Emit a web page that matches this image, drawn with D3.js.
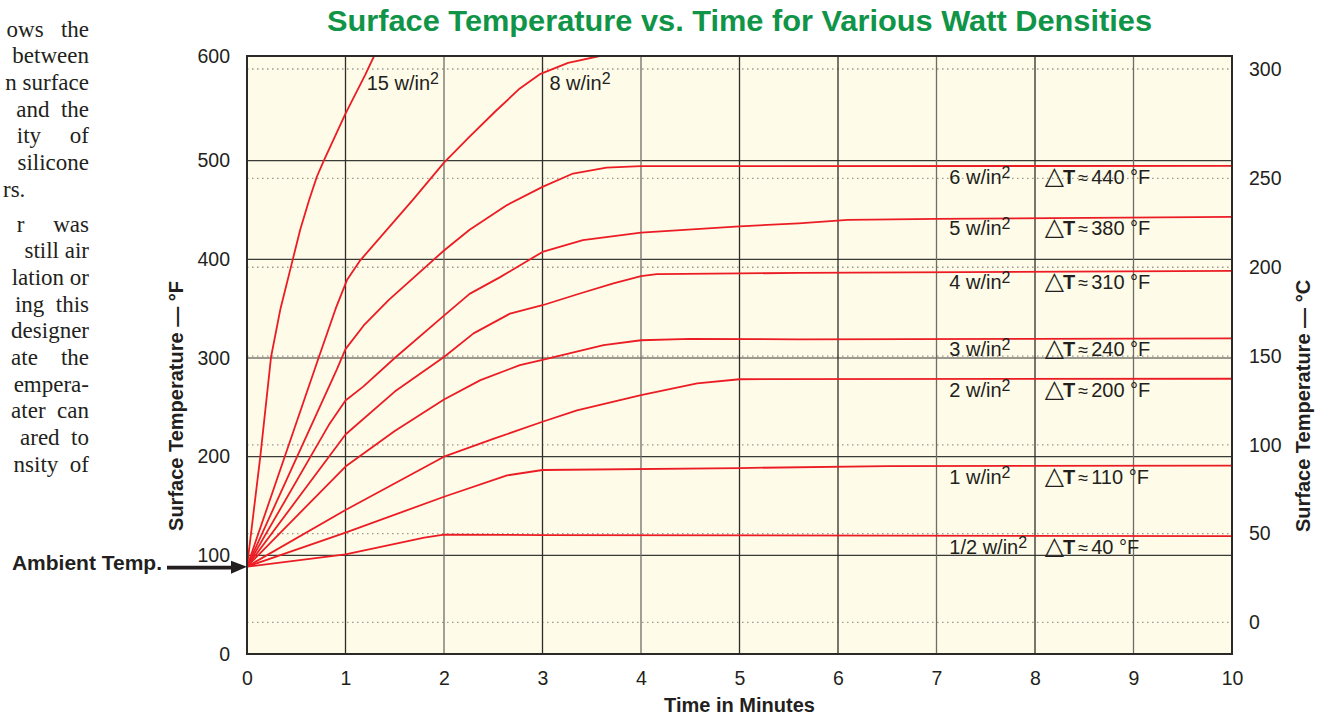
<!DOCTYPE html>
<html><head><meta charset="utf-8">
<script src="https://cdn.jsdelivr.net/npm/d3@7"></script>
<style>
html,body{margin:0;padding:0;background:#fff;}
svg{display:block;}
text{font-family:"Liberation Sans",Arial,Helvetica,sans-serif;}
.para{font-family:"Liberation Serif","Times New Roman",serif;white-space:pre;}
</style></head><body>
<svg id="chart" width="1323" height="716"></svg>
<script>
// ---------------- data ----------------
const chartTitle = "Surface Temperature vs. Time for Various Watt Densities";
const xTicks = [0,1,2,3,4,5,6,7,8,9,10];
const fTicks = [0,100,200,300,400,500,600];
const cTicks = [0,50,100,150,200,250,300];
const ambientF = 88.5;

const w15  = [[0,88.5],[0.135,200],[0.244,301],[0.34,350],[0.47,402],[0.54,430],[0.63,460],[0.71,484],[0.78,500],[1.0,545],[1.2,582],[1.29,600]];
const w8   = [[0,88.5],[0.73,301],[0.9,350],[1.015,379],[1.15,399],[1.69,461],[2,498],[2.26,523],[2.52,547],[2.77,569],[2.98,583],[3.26,593.5],[3.58,600]];
const w6   = [[0,88.5],[0.91,288],[1,309],[1.185,333],[1.44,359],[2,409],[2.26,430],[2.64,455],[3,473.5],[3.31,487],[3.65,493],[4,494.5],[10,494.7]];
const w5   = [[0,88.5],[0.83,232],[1,257],[1.18,271],[1.5,300],[2,343],[2.26,365],[2.57,382],[3,407.5],[3.41,419.5],[4,427],[5,433.5],[5.6,436.5],[6.1,440],[7,441],[10,443]];
const w4   = [[0,88.5],[1,222.5],[1.5,266],[2,301],[2.3,325],[2.67,345],[3,353.5],[3.38,365.4],[3.72,375.6],[4,383],[4.16,385],[5,385.7],[5.6,386.3],[10,388.4]];
const w3   = [[0,88.5],[1,190],[1.5,226],[2,258],[2.37,277.6],[2.77,292.8],[3,298],[3.62,313],[4,318],[4.5,319.5],[5.6,319],[8,319.5],[10,320]];
const w2   = [[0,88.5],[1,146],[2,200],[2.5,218],[3,235.4],[3.35,247],[4,262.4],[4.57,274.3],[5,278.5],[10,279]];
const w1   = [[0,88.5],[1,123],[2,159.4],[2.64,181],[3,186.5],[5,188.5],[6.5,190.5],[10,191]];
const wHalf= [[0,88.5],[1,101],[1.8,118],[2,121],[3,120.5],[10,119.5]];

const seriesNames = ["15","8","6","5","4","3","2","1","1/2"];
const seriesData  = [w15,w8,w6,w5,w4,w3,w2,w1,wHalf];
const deltaT      = [null,null,440,380,310,240,200,110,40];
// label anchors for the two curves that leave the top of the chart (time, °F)
const topLabelAnchors = [[1.215,568],[3.07,568]];

const paraLines1 = ["ows   the","between","n surface"," and  the","ity     of"," silicone","rs."];
const paraLines2 = ["r     was"," still air","lation or","ing  this","designer","ate    the","empera-","ater  can","ared  to","nsity  of"];

// ---------------- layout ----------------
const svg = d3.select("#chart");
const L = 247, R = 1232, T = 56, B = 654;
const x = d3.scaleLinear().domain([0,10]).range([L,R]);
const y = d3.scaleLinear().domain([0,500,600]).range([B,160.7,T]);
const fOfC = c => c*9/5+32;
// celsius axis: follows the °F scale; the top (300 °C) line sits just under the frame as drawn in the original
const yC = d3.scaleLinear().domain([0,250,300]).range([y(fOfC(0)),y(fOfC(250)),T+13]);

const ink = "#231f20";
const red = "#ec1c24";

// paragraph fragment on the left
const para = svg.append("g").attr("fill","#231f20").attr("font-size",23);
paraLines1.forEach((s,i)=>{
  const last = i===paraLines1.length-1;
  para.append("text").attr("class","para")
    .attr("x", last?3:89).attr("y",36.7+26.67*i)
    .attr("text-anchor", last?"start":"end").text(s);
});
paraLines2.forEach((s,i)=>{
  para.append("text").attr("class","para")
    .attr("x", 89).attr("y",231.7+26.67*i)
    .attr("text-anchor","end").text(s);
});

// title
svg.append("text").attr("x",(L+R)/2).attr("y",31).attr("text-anchor","middle")
  .attr("font-size",29.5).attr("font-weight","bold").attr("fill","#109447")
  .attr("textLength",825).attr("lengthAdjust","spacingAndGlyphs").text(chartTitle);

// plot background
svg.append("rect").attr("x",L).attr("y",T).attr("width",R-L).attr("height",B-T).attr("fill","#fefbe8");

// dotted celsius grid
svg.append("g").selectAll("line").data(cTicks).join("line")
  .attr("x1",L).attr("x2",R).attr("y1",d=>yC(d)).attr("y2",d=>yC(d))
  .attr("stroke","#9a9a92").attr("stroke-width",1.3).attr("stroke-dasharray","1.5,3.5");

// solid grid
svg.append("g").selectAll("line").data(fTicks.filter(d=>d>0&&d<600)).join("line")
  .attr("x1",L).attr("x2",R).attr("y1",d=>y(d)).attr("y2",d=>y(d))
  .attr("stroke","#3a3a36").attr("stroke-width",1.2);
svg.append("g").selectAll("line").data(xTicks.filter(d=>d>0&&d<10)).join("line")
  .attr("y1",T).attr("y2",B).attr("x1",d=>x(d)).attr("x2",d=>x(d))
  .attr("stroke",d=>[2,4,7,9].includes(d)?"#6f6e66":"#2e2d2a").attr("stroke-width",1.3);

// curves
svg.append("clipPath").attr("id","clip").append("rect").attr("x",L).attr("y",T).attr("width",R-L).attr("height",B-T);
const line = d3.line().x(d=>x(d[0])).y(d=>y(d[1]));
svg.append("g").attr("clip-path","url(#clip)").selectAll("path").data(seriesData).join("path")
  .attr("d",line).attr("fill","none").attr("stroke",red).attr("stroke-width",1.8).attr("stroke-linejoin","round");

// border
svg.append("rect").attr("x",L).attr("y",T).attr("width",R-L).attr("height",B-T)
  .attr("fill","none").attr("stroke","#2b2a27").attr("stroke-width",2);

// axes
const axL = svg.append("g").attr("transform",`translate(${L},0)`)
  .call(d3.axisLeft(y).tickValues(fTicks).tickSize(0).tickPadding(17).tickFormat(d3.format("d")));
const axB = svg.append("g").attr("transform",`translate(0,${B})`)
  .call(d3.axisBottom(x).tickValues(xTicks).tickSize(0).tickPadding(17).tickFormat(d3.format("d")));
const axR = svg.append("g").attr("transform",`translate(${R},0)`)
  .call(d3.axisRight(yC).tickValues(cTicks).tickSize(0).tickPadding(17).tickFormat(d3.format("d")));
[axL,axB,axR].forEach(a=>{
  a.select(".domain").remove();
  a.selectAll("text").attr("font-size",19.5).attr("fill",ink)
   .attr("font-family","'Liberation Sans',Arial,sans-serif");
});

// axis titles
svg.append("text").attr("transform",`translate(183,${(275+537)/2}) rotate(-90)`)
  .attr("text-anchor","middle").attr("font-size",20).attr("font-weight","bold").attr("fill",ink)
  .text("Surface Temperature — °F");
svg.append("text").attr("transform",`translate(1310,${(275+537)/2}) rotate(-90)`)
  .attr("text-anchor","middle").attr("font-size",20).attr("font-weight","bold").attr("fill",ink)
  .text("Surface Temperature — °C");
svg.append("text").attr("x",(L+R)/2).attr("y",712).attr("text-anchor","middle")
  .attr("font-size",20).attr("font-weight","bold").attr("fill",ink).text("Time in Minutes");

// ambient annotation
const ax0 = x(0), ay0 = y(ambientF);
svg.append("text").attr("x",162).attr("y",ay0+3).attr("text-anchor","end")
  .attr("font-size",21).attr("font-weight","bold").attr("fill",ink).text("Ambient Temp.");
svg.append("line").attr("x1",167).attr("x2",ax0-14).attr("y1",ay0+1).attr("y2",ay0+1)
  .attr("stroke",ink).attr("stroke-width",3.8);
svg.append("path").attr("d",`M${ax0},${ay0}L${ax0-16},${ay0-6}L${ax0-16},${ay0+7}Z`).attr("fill",ink);

// curve labels
function wLabel(g, xx, yy, name){
  const t = g.append("text").attr("x",xx).attr("y",yy).attr("font-size",20).attr("fill",ink);
  t.append("tspan").text(name+" w/in");
  t.append("tspan").attr("font-size",16).attr("dy",-6).text("2");
}
const labG = svg.append("g");
seriesData.forEach((s,i)=>{
  if(deltaT[i]===null){
    const a = topLabelAnchors[i];
    wLabel(labG, x(a[0]), y(a[1]), seriesNames[i]);
  } else {
    const yy = y(s[s.length-1][1]) + 18;
    wLabel(labG, x(7.13), yy, seriesNames[i]);
    const t = labG.append("text").attr("x",x(8.1)).attr("y",yy).attr("font-size",20).attr("fill",ink);
    t.append("tspan").attr("font-family","'DejaVu Sans',sans-serif").attr("font-size",25).text("△");
    t.append("tspan").attr("font-weight","bold").attr("dx",-1).text("T");
    t.append("tspan").attr("font-size",18).attr("dx",3).text("≈");
    t.append("tspan").attr("dx",3).text(deltaT[i]+" °F");
  }
});
</script>
</body></html>
